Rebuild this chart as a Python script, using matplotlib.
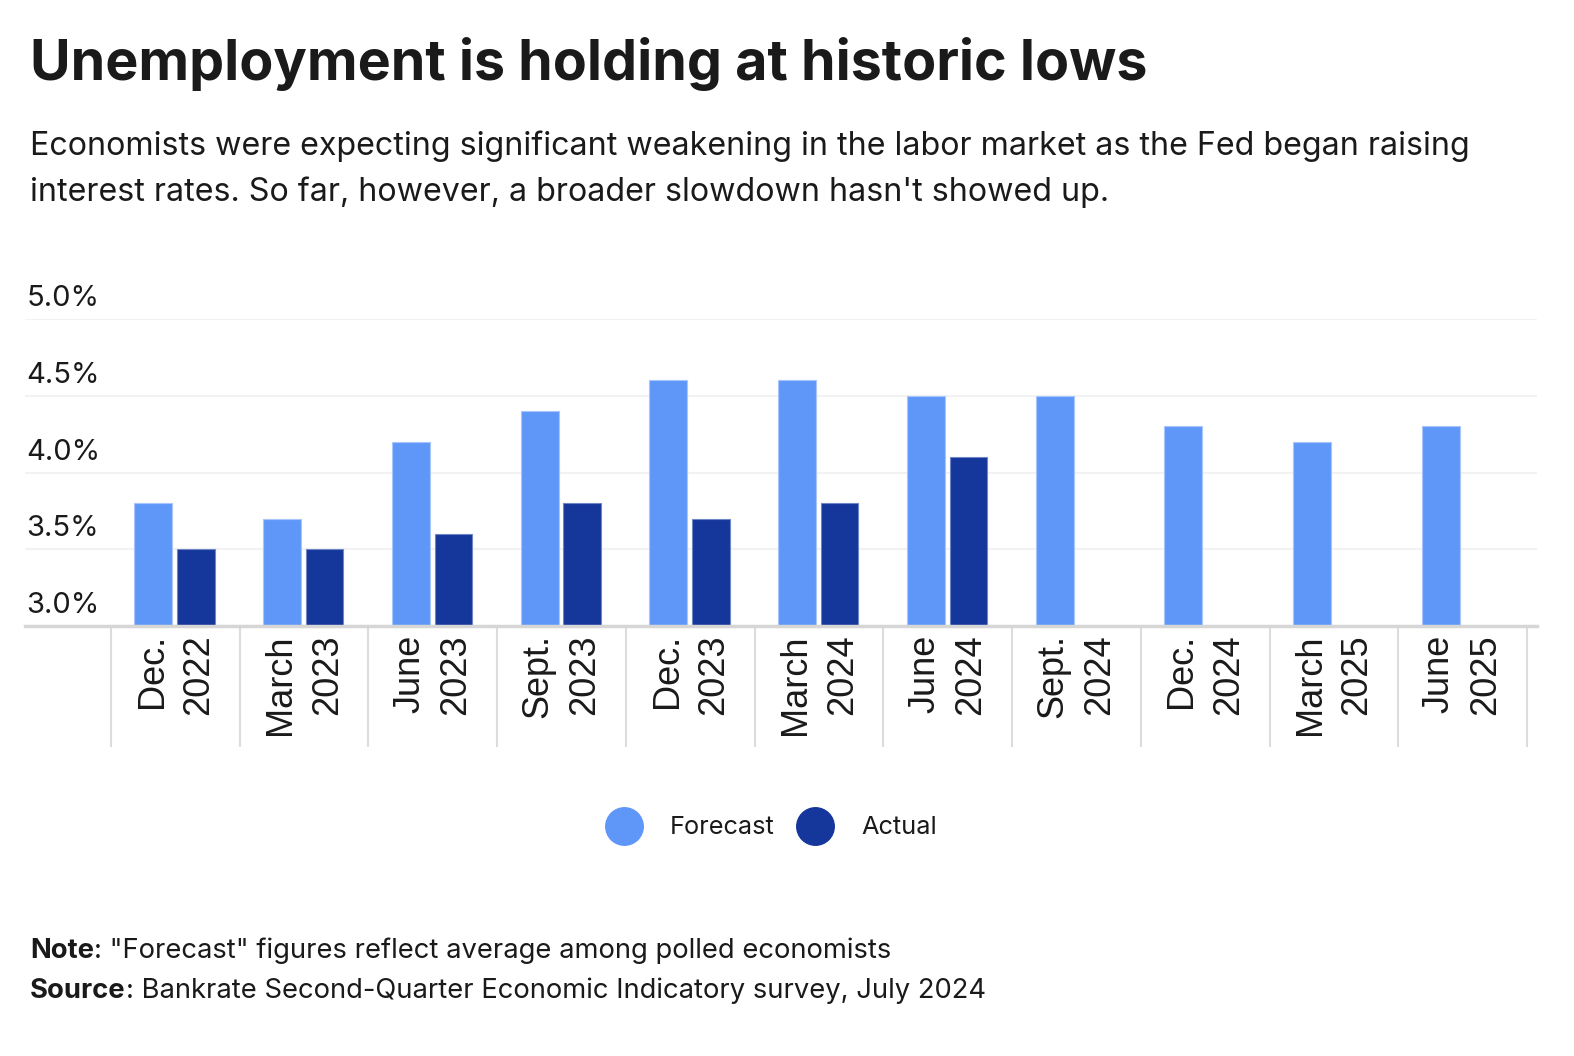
import matplotlib.pyplot as plt
from matplotlib.lines import Line2D
from matplotlib.transforms import ScaledTranslation
import numpy as np

FORECAST_COLOR = "#5f97f8"
ACTUAL_COLOR = "#15369a"
TEXT_COLOR = "#1a1a1a"
BODY_FONT = "Inter"

months = ["Dec.", "March", "June", "Sept.", "Dec.", "March", "June",
          "Sept.", "Dec.", "March", "June"]
years = ["2022", "2023", "2023", "2023", "2023", "2024", "2024",
         "2024", "2024", "2025", "2025"]
forecast = [3.8, 3.7, 4.2, 4.4, 4.6, 4.6, 4.5, 4.5, 4.3, 4.2, 4.3]
actual = [3.5, 3.5, 3.6, 3.8, 3.7, 3.8, 4.1]
y_ticks = [3.0, 3.5, 4.0, 4.5, 5.0]

fig = plt.figure(figsize=(15.74, 10.56), dpi=100)
renderer = fig.canvas.get_renderer()


def fit_width(text, width_px):
    """Scale a text's font size so it spans roughly width_px pixels."""
    w = text.get_window_extent(renderer).width
    text.set_fontsize(text.get_fontsize() * width_px / w)
    return text.get_fontsize()


ax = fig.add_axes([25 / 1574, 1 - 626 / 1056, 1512 / 1574, 307 / 1056])

x = np.arange(len(forecast))
xa = np.arange(len(actual))
ax.bar(x - 0.17, forecast, width=0.295, color=FORECAST_COLOR,
       edgecolor="#a8c6fb", linewidth=0.8, zorder=3)
ax.bar(xa + 0.16, actual, width=0.29, color=ACTUAL_COLOR,
       edgecolor="#6f86c6", linewidth=0.8, zorder=3)

ax.set_ylim(3.0, 5.0)
ax.set_xlim(-1.168, 10.578)

# gridlines and y labels sitting above them
ax.set_yticks(y_ticks)
ax.yaxis.grid(True, color="#f2f2f2", linewidth=1.5, zorder=0)
ax.tick_params(axis="y", length=0, labelleft=False)
offset = ScaledTranslation(0, 7 / 100, fig.dpi_scale_trans)
ylabels = []
for t in y_ticks:
    ylabels.append(ax.text(0.001, t, f"{t:.1f}%",
                           transform=ax.get_yaxis_transform() + offset,
                           ha="left", va="bottom", fontsize=21,
                           family=BODY_FONT, color=TEXT_COLOR))
size = fit_width(ylabels[-1], 73)
for lab in ylabels:
    lab.set_fontsize(size)

# category labels and dividers
ax.set_xticks(x)
ax.set_xticklabels([f"{m}\n{y}" for m, y in zip(months, years)],
                   rotation=90, ha="center", va="top", multialignment="right",
                   fontsize=26, family="Liberation Sans", color=TEXT_COLOR,
                   linespacing=1.42)
ax.tick_params(axis="x", length=0, pad=6)
ax.set_xticks(np.arange(len(forecast) + 1) - 0.5, minor=True)
ax.tick_params(axis="x", which="minor", length=87, width=1.5, color="#dcdcdc")

for side in ["top", "right", "left"]:
    ax.spines[side].set_visible(False)
ax.spines["bottom"].set_color("#d6d6d6")
ax.spines["bottom"].set_linewidth(2.5)
ax.spines["bottom"].set_zorder(4)

# legend
probe = fig.text(0, 0, "Forecast", family=BODY_FONT, fontsize=20)
legend_size = fit_width(probe, 105)
probe.remove()
handles = [
    Line2D([], [], marker="o", linestyle="none", markersize=27,
           markerfacecolor=FORECAST_COLOR, markeredgecolor=FORECAST_COLOR),
    Line2D([], [], marker="o", linestyle="none", markersize=27,
           markerfacecolor=ACTUAL_COLOR, markeredgecolor=ACTUAL_COLOR),
]
fig.legend(handles, ["Forecast", "Actual"], loc="center",
           bbox_to_anchor=(768 / 1574, 1 - 828 / 1056), ncol=2, frameon=False,
           prop={"family": BODY_FONT, "size": legend_size}, handletextpad=0.8,
           columnspacing=0.6, labelcolor=TEXT_COLOR)

# titles
title = fig.text(30 / 1574, 1 - 80 / 1056,
                 "Unemployment is holding at historic lows",
                 fontsize=41, fontweight="bold", family=BODY_FONT,
                 color=TEXT_COLOR, va="baseline")
fit_width(title, 1115)
sub1 = fig.text(30 / 1574, 1 - 155 / 1056,
                "Economists were expecting significant weakening in the labor market as the Fed began raising",
                fontsize=22, family=BODY_FONT, color=TEXT_COLOR, va="baseline")
sub_size = fit_width(sub1, 1437)
fig.text(30 / 1574, 1 - 201 / 1056,
         "interest rates. So far, however, a broader slowdown hasn't showed up.",
         fontsize=sub_size, family=BODY_FONT, color=TEXT_COLOR, va="baseline")

# notes: bold lead-in followed by regular text
probe = fig.text(0, 0, "Source: Bankrate Second-Quarter Economic Indicatory survey, July 2024",
                 family=BODY_FONT, fontsize=17)
note_size = fit_width(probe, 953)
probe.remove()
for y, lead, rest in [
    (958, "Note", ": \"Forecast\" figures reflect average among polled economists"),
    (998, "Source", ": Bankrate Second-Quarter Economic Indicatory survey, July 2024"),
]:
    bold = fig.text(30 / 1574, 1 - y / 1056, lead, fontsize=note_size,
                    fontweight="bold", family=BODY_FONT, color=TEXT_COLOR,
                    va="baseline")
    fig.draw_without_rendering()
    ext = bold.get_window_extent(renderer)
    fig.text(ext.x1 / 1574, 1 - y / 1056, rest, fontsize=note_size,
             family=BODY_FONT, color=TEXT_COLOR, va="baseline")

fig.savefig("out.png", dpi=100, facecolor="white")
